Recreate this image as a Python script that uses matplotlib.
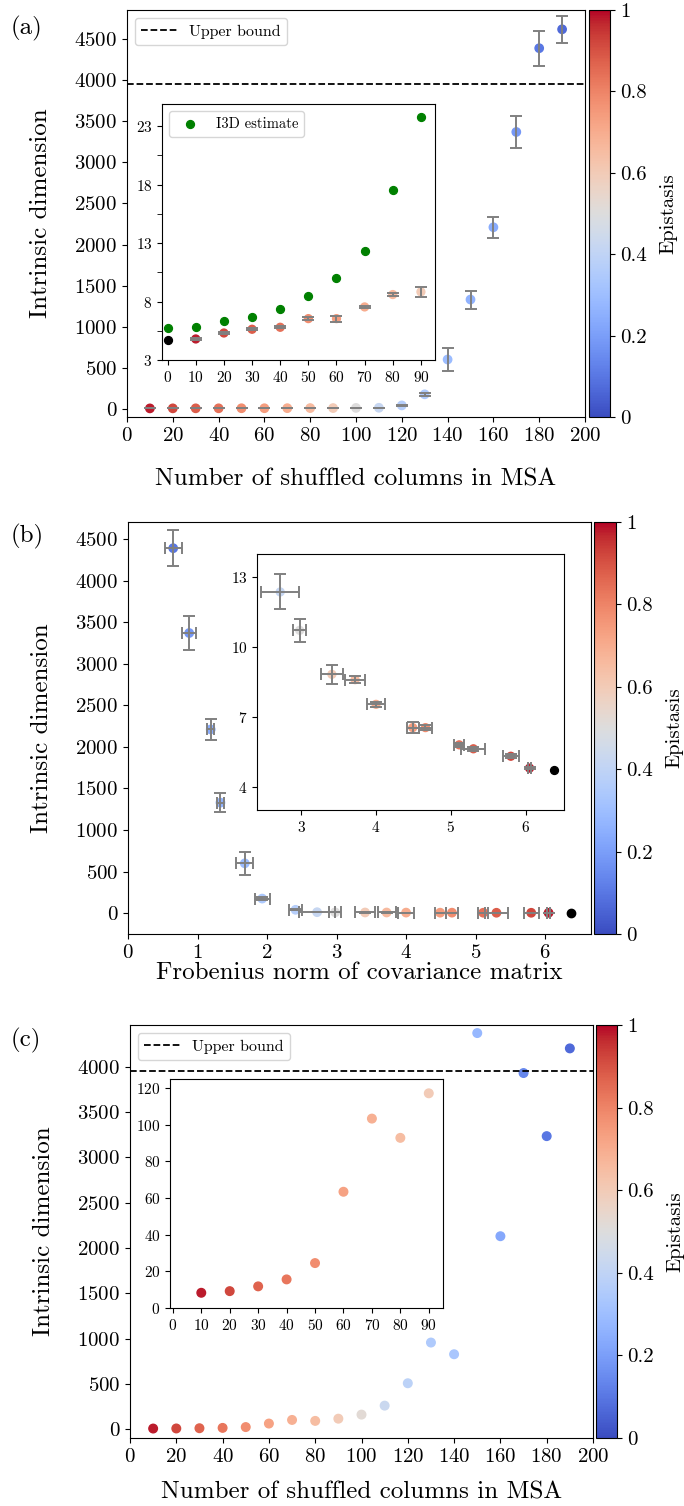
import numpy as np
import matplotlib
matplotlib.use("Agg")
import matplotlib.pyplot as plt
from matplotlib import cm, colors

plt.rcParams['font.family'] = 'serif'
plt.rcParams['font.serif'] = ['cmr10', 'DejaVu Serif']
plt.rcParams['mathtext.fontset'] = 'cm'
plt.rcParams['axes.formatter.use_mathtext'] = True

# --- data ---
shuffled = [10, 20, 30, 40, 50, 60, 70, 80, 90, 100, 110, 120, 130, 140, 150, 160, 170, 180, 190]
id_mean = [4.80, 5.31, 5.63, 5.80, 6.54, 6.54, 7.54, 8.60, 8.83, 10.72, 12.37, 41, 176, 600, 1330, 2210, 3370, 4390, 4620]
id_err = [0.05, 0.08, 0.08, 0.10, 0.10, 0.25, 0.10, 0.15, 0.42, 0.49, 0.75, 8, 20, 140, 110, 130, 200, 215, 165]
epistasis = [0.98, 0.92, 0.88, 0.84, 0.78, 0.74, 0.70, 0.66, 0.60, 0.50, 0.42, 0.37, 0.34, 0.29, 0.26, 0.24, 0.18, 0.10, 0.07]

# unshuffled MSA (black point)
ref_shuffled = 0
ref_id = 4.71
ref_frob = 6.37

# I3D estimate (inset a)
i3d_shuffled = [0, 10, 20, 30, 40, 50, 60, 70, 80, 90]
i3d_estimate = [5.77, 5.83, 6.31, 6.69, 7.37, 8.46, 10.0, 12.31, 17.57, 23.77]

# Frobenius norm for shuffled = 10 .. 180
frob_norm = [6.05, 5.80, 5.30, 5.11, 4.66, 4.49, 4.00, 3.72, 3.41, 2.98, 2.72, 2.41, 1.93, 1.68, 1.33, 1.19, 0.88, 0.65]
frob_err = [0.02, 0.11, 0.16, 0.07, 0.09, 0.08, 0.12, 0.13, 0.145, 0.083, 0.256, 0.10, 0.11, 0.12, 0.05, 0.05, 0.10, 0.12]

# panel (c)
c_id = [8.3, 9.2, 11.8, 15.6, 24.5, 63.4, 103.3, 92.8, 117.1, 162, 261, 508, 957, 828, 4371, 2130, 3930, 3234, 4202]
c_epistasis = [0.98, 0.92, 0.87, 0.83, 0.78, 0.73, 0.69, 0.65, 0.60, 0.52, 0.43, 0.39, 0.35, 0.33, 0.28, 0.23, 0.14, 0.10, 0.07]

upper_bound = 3950

W, H = 684, 1506
fig = plt.figure(figsize=(W / 100, H / 100), dpi=100)
cmap = cm.coolwarm
norm = colors.Normalize(0, 1)

TICK = 15
LABEL = 18
INSET_TICK = 11


def box(l, t, r, b):
    return [l / W, 1 - b / H, (r - l) / W, (b - t) / H]


def add_cbar(rect):
    cax = fig.add_axes(box(*rect))
    cb = fig.colorbar(cm.ScalarMappable(norm=norm, cmap=cmap), cax=cax)
    cb.set_ticks([0, 0.2, 0.4, 0.6, 0.8, 1])
    cb.set_ticklabels(['0', '0.2', '0.4', '0.6', '0.8', '1'])
    cb.ax.tick_params(labelsize=TICK)
    cb.set_label('Epistasis', fontsize=15, labelpad=9)
    return cb


def err_style():
    return dict(fmt='none', ecolor='gray', capsize=4, elinewidth=1.4, capthick=1.4, zorder=3)


# ---------------- (a) ----------------
ax = fig.add_axes(box(127, 10, 585, 417))
ax.scatter(shuffled, id_mean, c=epistasis, cmap=cmap, norm=norm, s=36, zorder=2)
ax.errorbar(shuffled, id_mean, yerr=id_err, **err_style())
ax.axhline(upper_bound, color='black', ls='--', lw=1.3, label='Upper bound')
ax.set_xlim(0, 200)
ax.set_ylim(-100, 4855)
ax.set_xticks(range(0, 201, 20))
ax.set_yticks(range(0, 4501, 500))
ax.tick_params(labelsize=TICK)
ax.set_xlabel('Number of shuffled columns in MSA', fontsize=LABEL, labelpad=17)
ax.set_ylabel('Intrinsic dimension', fontsize=LABEL, labelpad=16)
ax.legend(loc='upper left', fontsize=11.5, handlelength=2.2)
fig.text(11 / W, 1 - 28 / H, '(a)', fontsize=18, va='center')
add_cbar((589, 10, 610, 417))

ins = fig.add_axes(box(162, 104, 435, 360))
ins.scatter(i3d_shuffled, i3d_estimate, color='green', s=32, label='I3D estimate', zorder=2)
ins.scatter(shuffled[:9], id_mean[:9], c=epistasis[:9], cmap=cmap, norm=norm, s=32, zorder=2)
ins.errorbar(shuffled[:9], id_mean[:9], yerr=id_err[:9], **err_style())
ins.scatter([ref_shuffled], [ref_id], color='black', s=32, zorder=2)
ins.set_xlim(-2, 95)
ins.set_ylim(3, 24.9)
ins.set_xticks(range(0, 91, 10))
ins.set_yticks([3, 8, 13, 18, 23])
ins.set_yticks([5.5, 10.5, 15.5, 20.5], minor=True)
ins.tick_params(labelsize=INSET_TICK)
ins.tick_params(which='minor', length=3.5)
ins.legend(loc='upper left', fontsize=10.5)

# ---------------- (b) ----------------
n = len(frob_norm)
ax = fig.add_axes(box(128, 522, 591, 934))
ax.scatter(frob_norm, id_mean[:n], c=epistasis[:n], cmap=cmap, norm=norm, s=36, zorder=2)
ax.errorbar(frob_norm, id_mean[:n], xerr=frob_err, yerr=id_err[:n], **err_style())
ax.scatter([ref_frob], [ref_id], color='black', s=36, zorder=2)
ax.set_xlim(0, 6.66)
ax.set_ylim(-250, 4705)
ax.set_xticks(range(0, 7))
ax.set_yticks(range(0, 4501, 500))
ax.tick_params(labelsize=TICK)
ax.set_xlabel('Frobenius norm of covariance matrix', fontsize=LABEL, labelpad=0)
ax.set_ylabel('Intrinsic dimension', fontsize=LABEL, labelpad=16)
fig.text(11 / W, 1 - 536 / H, '(b)', fontsize=18, va='center')
add_cbar((594, 522, 616, 934))

ins = fig.add_axes(box(257, 554, 564, 810))
ins.scatter(frob_norm[:11], id_mean[:11], c=epistasis[:11], cmap=cmap, norm=norm, s=32, zorder=2)
ins.errorbar(frob_norm[:11], id_mean[:11], xerr=frob_err[:11], yerr=id_err[:11], **err_style())
ins.scatter([ref_frob], [ref_id], color='black', s=32, zorder=2)
ins.set_xlim(2.41, 6.51)
ins.set_ylim(3, 14)
ins.set_xticks([3, 4, 5, 6])
ins.set_yticks([4, 7, 10, 13])
ins.tick_params(labelsize=INSET_TICK)

# ---------------- (c) ----------------
ax = fig.add_axes(box(130, 1025, 593, 1438))
ax.scatter(shuffled, c_id, c=c_epistasis, cmap=cmap, norm=norm, s=38, zorder=2)
ax.axhline(upper_bound, color='black', ls='--', lw=1.3, label='Upper bound')
ax.set_xlim(0, 200)
ax.set_ylim(-96, 4460)
ax.set_xticks(range(0, 201, 20))
ax.set_yticks(range(0, 4001, 500))
ax.tick_params(labelsize=TICK)
ax.set_xlabel('Number of shuffled columns in MSA', fontsize=LABEL, labelpad=11)
ax.set_ylabel('Intrinsic dimension', fontsize=LABEL, labelpad=16)
ax.legend(loc='upper left', fontsize=11.5, handlelength=2.2)
fig.text(11 / W, 1 - 1040 / H, '(c)', fontsize=18, va='center')
add_cbar((596, 1025, 617, 1438))

ins = fig.add_axes(box(170, 1079, 443, 1308))
ins.scatter(shuffled[:9], c_id[:9], c=c_epistasis[:9], cmap=cmap, norm=norm, s=38, zorder=2)
ins.set_xlim(-1, 95)
ins.set_ylim(0, 124.9)
ins.set_xticks(range(0, 91, 10))
ins.set_yticks(range(0, 121, 20))
ins.tick_params(labelsize=INSET_TICK)

fig.savefig('out.png', dpi=100)
